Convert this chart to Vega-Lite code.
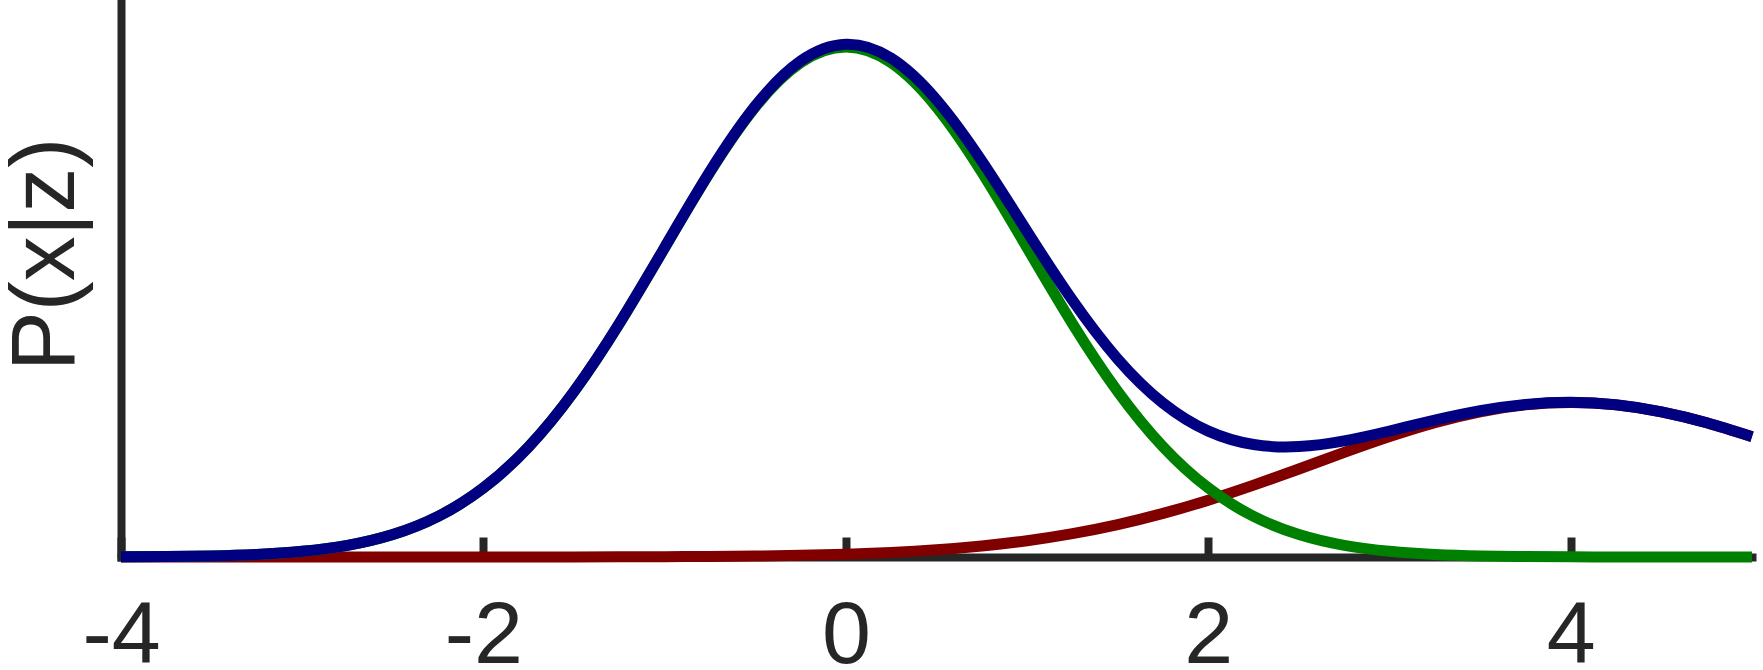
{
  "$schema": "https://vega.github.io/schema/vega-lite/v6.json",
  "autosize": "none",
  "width": 1631,
  "height": 554,
  "padding": {"left": 121, "top": 3, "right": 11, "bottom": 113},
  "background": "white",
  "config": {"view": {"stroke": null}},
  "data": {"values": [
    {"x": -4, "green": 0.00009, "red": 0, "total": 0.00009},
    {"x": -3.75, "green": 0.00025, "red": 0, "total": 0.00025},
    {"x": -3.5, "green": 0.00061, "red": 0, "total": 0.00061},
    {"x": -3.25, "green": 0.00142, "red": 0, "total": 0.00142},
    {"x": -3, "green": 0.0031, "red": 0, "total": 0.0031},
    {"x": -2.75, "green": 0.00636, "red": 0, "total": 0.00636},
    {"x": -2.5, "green": 0.01227, "red": 0, "total": 0.01227},
    {"x": -2.25, "green": 0.02222, "red": 0, "total": 0.02222},
    {"x": -2, "green": 0.0378, "red": 0.00001, "total": 0.03781},
    {"x": -1.75, "green": 0.0604, "red": 0.00002, "total": 0.06042},
    {"x": -1.5, "green": 0.09066, "red": 0.00004, "total": 0.0907},
    {"x": -1.25, "green": 0.12785, "red": 0.00009, "total": 0.12794},
    {"x": -1, "green": 0.16938, "red": 0.00016, "total": 0.16954},
    {"x": -0.75, "green": 0.2108, "red": 0.0003, "total": 0.2111},
    {"x": -0.5, "green": 0.24645, "red": 0.00054, "total": 0.24699},
    {"x": -0.25, "green": 0.27067, "red": 0.00093, "total": 0.2716},
    {"x": 0, "green": 0.27926, "red": 0.00155, "total": 0.28081},
    {"x": 0.25, "green": 0.27067, "red": 0.00252, "total": 0.27319},
    {"x": 0.5, "green": 0.24645, "red": 0.00396, "total": 0.25041},
    {"x": 0.75, "green": 0.2108, "red": 0.00604, "total": 0.21684},
    {"x": 1, "green": 0.16938, "red": 0.00892, "total": 0.1783},
    {"x": 1.25, "green": 0.12785, "red": 0.01278, "total": 0.14063},
    {"x": 1.5, "green": 0.09066, "red": 0.01774, "total": 0.1084},
    {"x": 1.75, "green": 0.0604, "red": 0.02387, "total": 0.08427},
    {"x": 2, "green": 0.0378, "red": 0.03113, "total": 0.06893},
    {"x": 2.25, "green": 0.02222, "red": 0.03936, "total": 0.06158},
    {"x": 2.5, "green": 0.01227, "red": 0.04822, "total": 0.06049},
    {"x": 2.75, "green": 0.00636, "red": 0.05726, "total": 0.06362},
    {"x": 3, "green": 0.0031, "red": 0.06591, "total": 0.06901},
    {"x": 3.25, "green": 0.00142, "red": 0.07353, "total": 0.07495},
    {"x": 3.5, "green": 0.00061, "red": 0.0795, "total": 0.08011},
    {"x": 3.75, "green": 0.00025, "red": 0.08332, "total": 0.08357},
    {"x": 4, "green": 0.00009, "red": 0.08463, "total": 0.08472},
    {"x": 4.25, "green": 0.00003, "red": 0.08332, "total": 0.08335},
    {"x": 4.5, "green": 0.00001, "red": 0.0795, "total": 0.07951},
    {"x": 4.75, "green": 0, "red": 0.07353, "total": 0.07353},
    {"x": 5, "green": 0, "red": 0.06591, "total": 0.06591}
  ]},
  "transform": [
    {"fold": ["red", "green", "total"], "as": ["series", "p"]}
  ],
  "mark": {"type": "line", "strokeWidth": 11, "interpolate": "natural", "strokeCap": "butt"},
  "encoding": {
    "x": {
      "field": "x", "type": "quantitative",
      "scale": {"domain": [-4, 5], "nice": false, "zero": false},
      "axis": {
        "values": [-4, -2, 0, 2, 4],
        "labelExpr": "'' + datum.value",
        "title": null,
        "grid": false,
        "domainColor": "#262626",
        "domainWidth": 8,
        "domainCap": "square",
        "tickColor": "#262626",
        "tickWidth": 8,
        "tickSize": -20,
        "labelFont": "Liberation Sans",
        "labelFontSize": 88,
        "labelColor": "#262626",
        "labelPadding": 55,
        "labelFlush": false,
        "labelOverlap": false
      }
    },
    "y": {
      "field": "p", "type": "quantitative",
      "scale": {"domain": [0, 0.3034], "nice": false, "zero": true},
      "axis": {
        "title": "P(x|z)",
        "ticks": false,
        "labels": false,
        "grid": false,
        "domainColor": "#262626",
        "domainWidth": 8,
        "domainCap": "square",
        "titleFont": "Liberation Sans",
        "titleFontSize": 90,
        "titleFontWeight": "normal",
        "titleColor": "#262626",
        "titleAngle": -90,
        "titleAlign": "center",
        "titleBaseline": "alphabetic",
        "titleX": -48,
        "titleY": 251
      }
    },
    "color": {
      "field": "series", "type": "nominal",
      "scale": {"domain": ["red", "green", "total"], "range": ["#800000", "#008000", "#000080"]},
      "legend": null
    },
    "order": {"field": "x", "type": "quantitative"}
  }
}
